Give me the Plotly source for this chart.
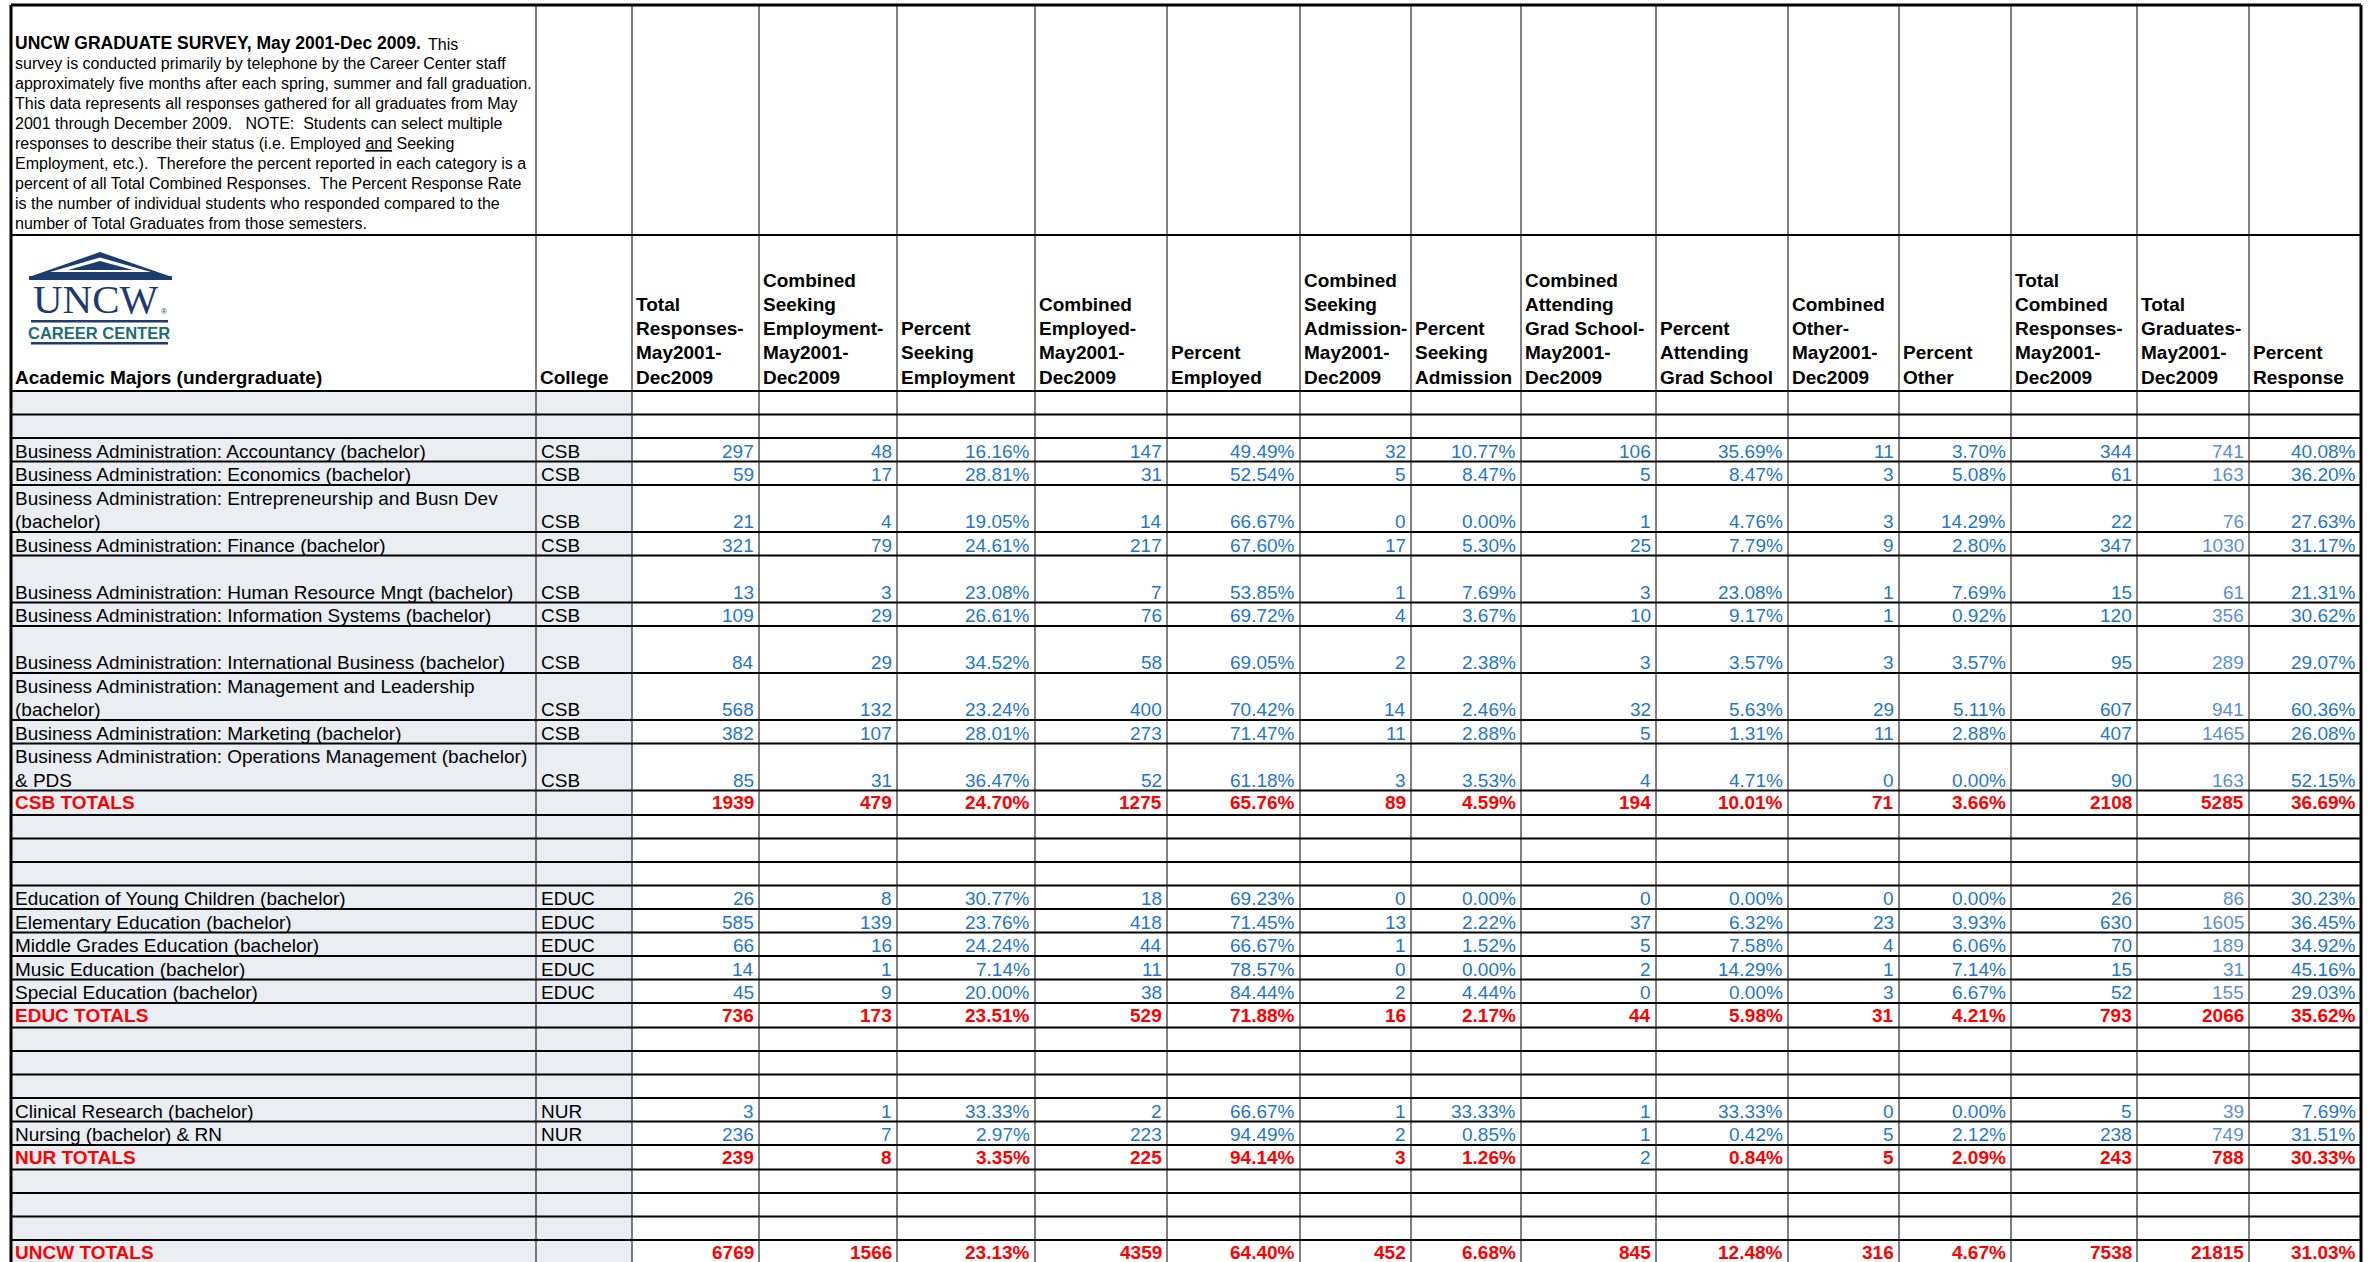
import plotly.graph_objects as go

# ---------------- DATA ----------------
majors = [
    "Business Administration: Accountancy (bachelor)",
    "Business Administration: Economics (bachelor)",
    "Business Administration: Entrepreneurship and Busn Dev (bachelor)",
    "Business Administration: Finance (bachelor)",
    "Business Administration: Human Resource Mngt (bachelor)",
    "Business Administration: Information Systems (bachelor)",
    "Business Administration: International Business (bachelor)",
    "Business Administration: Management and Leadership (bachelor)",
    "Business Administration: Marketing (bachelor)",
    "Business Administration: Operations Management (bachelor) & PDS",
    "Education of Young Children (bachelor)",
    "Elementary Education (bachelor)",
    "Middle Grades Education (bachelor)",
    "Music Education (bachelor)",
    "Special Education (bachelor)",
    "Clinical Research (bachelor)",
    "Nursing (bachelor) & RN",
]
colleges = ["CSB"] * 10 + ["EDUC"] * 5 + ["NUR"] * 2
groups = [("CSB", 10), ("EDUC", 5), ("NUR", 2)]

total_responses = [297, 59, 21, 321, 13, 109, 84, 568, 382, 85, 26, 585, 66, 14, 45, 3, 236]
seeking_employment = [48, 17, 4, 79, 3, 29, 29, 132, 107, 31, 8, 139, 16, 1, 9, 1, 7]
pct_seeking_employment = [16.16, 28.81, 19.05, 24.61, 23.08, 26.61, 34.52, 23.24, 28.01, 36.47,
                          30.77, 23.76, 24.24, 7.14, 20.00, 33.33, 2.97]
employed = [147, 31, 14, 217, 7, 76, 58, 400, 273, 52, 18, 418, 44, 11, 38, 2, 223]
pct_employed = [49.49, 52.54, 66.67, 67.60, 53.85, 69.72, 69.05, 70.42, 71.47, 61.18,
                69.23, 71.45, 66.67, 78.57, 84.44, 66.67, 94.49]
seeking_admission = [32, 5, 0, 17, 1, 4, 2, 14, 11, 3, 0, 13, 1, 0, 2, 1, 2]
pct_seeking_admission = [10.77, 8.47, 0.00, 5.30, 7.69, 3.67, 2.38, 2.46, 2.88, 3.53,
                         0.00, 2.22, 1.52, 0.00, 4.44, 33.33, 0.85]
grad_school = [106, 5, 1, 25, 3, 10, 3, 32, 5, 4, 0, 37, 5, 2, 0, 1, 1]
pct_grad_school = [35.69, 8.47, 4.76, 7.79, 23.08, 9.17, 3.57, 5.63, 1.31, 4.71,
                   0.00, 6.32, 7.58, 14.29, 0.00, 33.33, 0.42]
other = [11, 3, 3, 9, 1, 1, 3, 29, 11, 0, 0, 23, 4, 1, 3, 0, 5]
pct_other = [3.70, 5.08, 14.29, 2.80, 7.69, 0.92, 3.57, 5.11, 2.88, 0.00,
             0.00, 3.93, 6.06, 7.14, 6.67, 0.00, 2.12]
combined_responses = [344, 61, 22, 347, 15, 120, 95, 607, 407, 90, 26, 630, 70, 15, 52, 5, 238]
total_graduates = [741, 163, 76, 1030, 61, 356, 289, 941, 1465, 163, 86, 1605, 189, 31, 155, 39, 749]
pct_response = [40.08, 36.20, 27.63, 31.17, 21.31, 30.62, 29.07, 60.36, 26.08, 52.15,
                30.23, 36.45, 34.92, 45.16, 29.03, 7.69, 31.51]

total_labels = ["CSB TOTALS", "EDUC TOTALS", "NUR TOTALS", "UNCW TOTALS"]
tot_total_responses = [1939, 736, 239, 6769]
tot_seeking_employment = [479, 173, 8, 1566]
tot_pct_seeking_employment = [24.70, 23.51, 3.35, 23.13]
tot_employed = [1275, 529, 225, 4359]
tot_pct_employed = [65.76, 71.88, 94.14, 64.40]
tot_seeking_admission = [89, 16, 3, 452]
tot_pct_seeking_admission = [4.59, 2.17, 1.26, 6.68]
tot_grad_school = [194, 44, 2, 845]
tot_pct_grad_school = [10.01, 5.98, 0.84, 12.48]
tot_other = [71, 31, 5, 316]
tot_pct_other = [3.66, 4.21, 2.09, 4.67]
tot_combined_responses = [2108, 793, 243, 7538]
tot_total_graduates = [5285, 2066, 788, 21815]
tot_pct_response = [36.69, 35.62, 30.33, 31.03]

headers = [
    ["Academic Majors (undergraduate)"],
    ["College"],
    ["Total", "Responses-", "May2001-", "Dec2009"],
    ["Combined", "Seeking", "Employment-", "May2001-", "Dec2009"],
    ["Percent", "Seeking", "Employment"],
    ["Combined", "Employed-", "May2001-", "Dec2009"],
    ["Percent", "Employed"],
    ["Combined", "Seeking", "Admission-", "May2001-", "Dec2009"],
    ["Percent", "Seeking", "Admission"],
    ["Combined", "Attending", "Grad School-", "May2001-", "Dec2009"],
    ["Percent", "Attending", "Grad School"],
    ["Combined", "Other-", "May2001-", "Dec2009"],
    ["Percent", "Other"],
    ["Total", "Combined", "Responses-", "May2001-", "Dec2009"],
    ["Total", "Graduates-", "May2001-", "Dec2009"],
    ["Percent", "Response"],
]

title_bold = "UNCW GRADUATE SURVEY, May 2001-Dec 2009."
title_lines = [
    "This",
    "survey is conducted primarily by telephone by the Career Center staff",
    "approximately five months after each spring, summer and fall graduation.",
    "This data represents all responses gathered for all graduates from May",
    "2001 through December 2009.\u00a0\u00a0 NOTE:\u00a0 Students can select multiple",
    "responses to describe their status (i.e. Employed <span style='text-decoration:underline'>and</span> Seeking",
    "Employment, etc.).\u00a0 Therefore the percent reported in each category is a",
    "percent of all Total Combined Responses.\u00a0 The Percent Response Rate",
    "is the number of individual students who responded compared to the",
    "number of Total Graduates from those semesters.",
]

# ---------------- STYLE / LAYOUT ----------------
W, H = 2376, 1262
FONT = "Liberation Sans, Arial, Helvetica, sans-serif"
BLUE = "#1f77c9"
LIGHT_BLUE = "#5b8ed6"
RED = "#ff0000"
BG = "#eaeef3"
NAVY = "#1d3c6e"
TEAL = "#1b6d73"

col_edges = [11, 536, 632, 759, 897, 1035, 1167, 1300, 1411, 1521, 1656,
             1788, 1899, 2011, 2137, 2249, 2361]
TOP = 5
TITLE_BOTTOM = 235
HEADER_BOTTOM = 391
ROW_H = 23.5
TOTAL_H = 24.5
row_lines = [1, 1, 2, 1, 2, 1, 2, 2, 1, 2, 1, 1, 1, 1, 1, 1, 1]
label_breaks = {2: "(bachelor)", 7: "(bachelor)", 9: "& PDS"}
plain_total_cells = {(2, 7)}  # NUR totals grad school shown in regular blue

data_cols = [total_responses, seeking_employment, pct_seeking_employment, employed,
             pct_employed, seeking_admission, pct_seeking_admission, grad_school,
             pct_grad_school, other, pct_other, combined_responses, total_graduates,
             pct_response]
total_cols = [tot_total_responses, tot_seeking_employment, tot_pct_seeking_employment,
              tot_employed, tot_pct_employed, tot_seeking_admission,
              tot_pct_seeking_admission, tot_grad_school, tot_pct_grad_school,
              tot_other, tot_pct_other, tot_combined_responses, tot_total_graduates,
              tot_pct_response]
col_kind = ["int", "int", "pct", "int", "pct", "int", "pct", "int", "pct",
            "int", "pct", "int", "int", "pct"]
col_color = [BLUE] * 12 + [LIGHT_BLUE, BLUE]


def fmt(v, kind):
    return f"{v:.2f}%" if kind == "pct" else str(v)


shapes = []
ann = []


def text(x, y, s, size=19, color="black", bold=False, anchor="left", family=FONT):
    if bold:
        s = "<b>" + s + "</b>"
    ann.append(dict(x=x, y=y, text=s, showarrow=False, xref="x", yref="y",
                    xanchor=anchor, yanchor="middle", borderpad=0,
                    font=dict(family=family, size=size, color=color)))


def hline(y, x0=col_edges[0], x1=col_edges[-1], w=2):
    shapes.append(dict(type="line", xref="x", yref="y", x0=x0, x1=x1, y0=y, y1=y,
                       line=dict(color="black", width=w)))


def vline(x, y0, y1, w=1):
    shapes.append(dict(type="line", xref="x", yref="y", x0=x, x1=x, y0=y0, y1=y1,
                       line=dict(color="black", width=w)))


# row sequence
rows = [("blank", None, ROW_H), ("blank", None, ROW_H)]
idx = 0
for g, (gname, n) in enumerate(groups):
    for k in range(n):
        rows.append(("data", idx, ROW_H * row_lines[idx]))
        idx += 1
    rows.append(("total", g, TOTAL_H))
    rows += [("blank", None, ROW_H)] * 3
rows.append(("total", 3, 60))

# background of first two columns
shapes.append(dict(type="rect", xref="x", yref="y", x0=col_edges[0], x1=col_edges[2],
                   y0=HEADER_BOTTOM, y1=H + 5, fillcolor=BG, line=dict(width=0),
                   layer="below"))

# rows
y = HEADER_BOTTOM
hline(TITLE_BOTTOM)
hline(HEADER_BOTTOM)
for kind, i, h in rows:
    top, bot = y, y + h
    if kind == "data":
        yc = bot - 10.5
        label = majors[i]
        if i in label_breaks:
            br = label_breaks[i]
            pos = label.index(br)
            text(col_edges[0] + 3, yc - ROW_H, label[:pos].rstrip())
            text(col_edges[0] + 3, yc, label[pos:])
        else:
            text(col_edges[0] + 3, yc, label)
        text(col_edges[1] + 4, yc, colleges[i])
        for c, col in enumerate(data_cols):
            text(col_edges[c + 3] - 4, yc, fmt(col[i], col_kind[c]),
                 color=col_color[c], anchor="right")
    elif kind == "total":
        yc = top + 12
        text(col_edges[0] + 3, yc, total_labels[i], color=RED, bold=True)
        for c, col in enumerate(total_cols):
            if (i, c) in plain_total_cells:
                text(col_edges[c + 3] - 4, yc, fmt(col[i], col_kind[c]),
                     color=BLUE, anchor="right")
            else:
                text(col_edges[c + 3] - 4, yc, fmt(col[i], col_kind[c]),
                     color=RED, bold=True, anchor="right")
    if bot < H:
        hline(bot)
    y = bot

# vertical grid
for x in col_edges[1:-1]:
    vline(x, TOP, H + 5)
# outer border
hline(TOP, w=3)
vline(col_edges[0], TOP, H + 5, w=3)
vline(col_edges[-1], TOP, H + 5, w=3)

# title block
text(14, 43, title_bold, size=17.5, bold=True)
text(427, 44, title_lines[0], size=16)
for k, line in enumerate(title_lines[1:]):
    text(14, 63 + 20 * k, line, size=16)

# headers
for c, lines in enumerate(headers):
    n = len(lines)
    for k, line in enumerate(lines):
        yc = 377 - 24.2 * (n - 1 - k)
        text(col_edges[c] + 3, yc, line, bold=True)

# logo
shapes.append(dict(type="path", xref="x", yref="y", path="M 29 277 L 100 252 L 172 277 Z",
                   fillcolor=NAVY, line=dict(width=0)))
shapes.append(dict(type="path", xref="x", yref="y", path="M 50 272 L 100 257.5 L 151 272 Z",
                   fillcolor="white", line=dict(width=0)))
shapes.append(dict(type="path", xref="x", yref="y", path="M 68 270 L 100 261 L 133 270 Z",
                   fillcolor=NAVY, line=dict(width=0)))
shapes.append(dict(type="rect", xref="x", yref="y", x0=29, x1=172, y0=276, y1=280,
                   fillcolor=NAVY, line=dict(width=0)))
text(96, 299, "UNCW", size=41, color=NAVY, anchor="center",
     family="Liberation Serif, Times New Roman, serif")
text(164, 311, "®", size=8, color=NAVY, anchor="center")
shapes.append(dict(type="rect", xref="x", yref="y", x0=31, x1=168, y0=320, y1=322.5,
                   fillcolor=NAVY, line=dict(width=0)))
text(99, 333, "<b>CAREER CENTER</b>", size=16.5, color=TEAL, anchor="center",
     family="Liberation Sans Narrow, Arial Narrow, Liberation Sans, sans-serif")
shapes.append(dict(type="rect", xref="x", yref="y", x0=31, x1=168, y0=342, y1=344.5,
                   fillcolor=NAVY, line=dict(width=0)))

fig = go.Figure()
fig.update_layout(
    width=W, height=H, autosize=False,
    margin=dict(l=0, r=0, t=0, b=0),
    paper_bgcolor="white", plot_bgcolor="white",
    xaxis=dict(range=[0, W], visible=False, fixedrange=True),
    yaxis=dict(range=[H, 0], visible=False, fixedrange=True),
    shapes=shapes, annotations=ann, showlegend=False,
)
fig.write_html("out.html", config={"displayModeBar": False},
               post_script="document.body.style.margin='0px';"
                           "document.body.style.overflow='hidden';")
